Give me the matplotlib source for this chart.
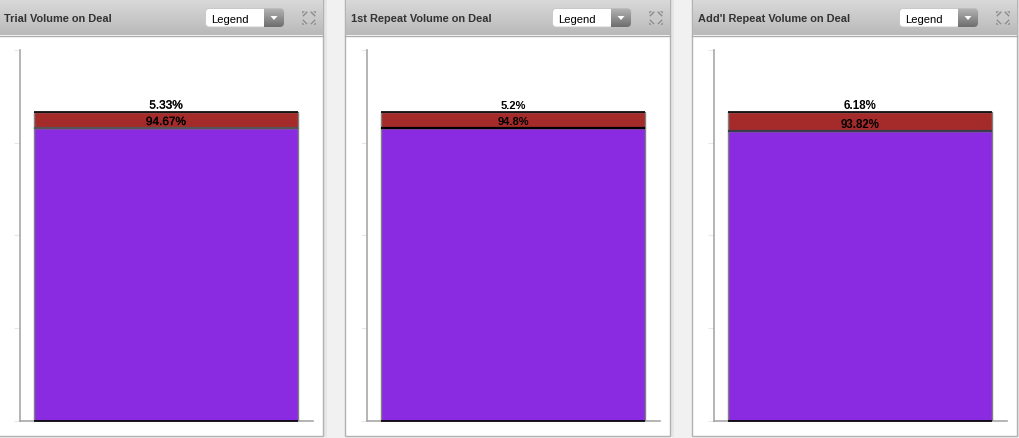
import numpy as np
import matplotlib
matplotlib.use("Agg")
import matplotlib.pyplot as plt
import matplotlib.patheffects as pe
from matplotlib.patches import Rectangle, FancyBboxPatch
from matplotlib.colors import LinearSegmentedColormap

titles = ["Trial Volume on Deal", "1st Repeat Volume on Deal", "Add'l Repeat Volume on Deal"]
not_on_deal = [94.67, 94.8, 93.82]
on_deal = [5.33, 5.2, 6.18]
bottom_labels = ["94.67%", "94.8%", "93.82%"]
top_labels = ["5.33%", "5.2%", "6.18%"]
y_ticks = [0, 30, 60, 90, 120]
legend_label = "Legend"

W, H = 1020, 439
PURPLE = "#8a2be2"
BROWN = "#a52a2a"
divider_colors = ["#555555", "#000000", "#3a3a50"]
label_weights = ["normal", "bold", "bold"]
label_sizes = [8.5, 8.0, 8.3]
label_pad = [4.4, 5.0, 5.0]
offsets = [0, 347, 694]

plt.rcParams["font.family"] = ["Liberation Sans", "DejaVu Sans"]
fig = plt.figure(figsize=(W / 100, H / 100), dpi=100, facecolor="#f1f1f1")

# overlay in pixel coordinates for the panel chrome
bg = fig.add_axes([0, 0, 1, 1], zorder=0)
bg.axis("off")

hdr = LinearSegmentedColormap.from_list("hdr", ["#dadada", "#b9b9b9"])
btn = LinearSegmentedColormap.from_list("btn", ["#b5b5b5", "#6e6e6e"])
grad = np.linspace(0, 1, 64).reshape(-1, 1)


def expand_icon(x, y):
    """Four small corner arrows, centred on (x, y)."""
    for dx, dy in [(-1, -1), (1, -1), (-1, 1), (1, 1)]:
        cx, cy = x + dx * 4, y + dy * 4
        bg.add_patch(Rectangle((cx - 3, cy - 3), 6, 6, fc="#cacaca", ec="none", zorder=5))
        bg.plot([cx - 2.2, cx + 2.2], [cy - dx * dy * -2.2, cy + dx * dy * -2.2],
                color="#8c8c8c", lw=1.0, zorder=6, solid_capstyle="butt")
        bg.fill([cx + dx * 2.8, cx + dx * 0.2, cx + dx * 2.8],
                [cy + dy * 2.8, cy + dy * 2.8, cy + dy * 0.2],
                color="#8c8c8c", lw=0, zorder=6)


for i, off in enumerate(offsets):
    left, right = off - 1.8, off + 323
    # soft shadow
    bg.add_patch(Rectangle((right, 0), 4, 438, fc="#e6e6e6", ec="none", zorder=1))
    bg.add_patch(Rectangle((left, -1), right - left, 438.5, fc="white", ec="#b2b2b2", lw=1.0, zorder=2))
    bg.imshow(grad, cmap=hdr, extent=(left + .5, right - .5, 36, 0), aspect="auto", zorder=3)
    bg.plot([left, right], [36.5, 36.5], color="#acacac", lw=1, zorder=4)
    bg.text(off + 4, 18.7, titles[i], fontsize=7.9, fontweight="bold", color="#333333",
            va="center", ha="left", zorder=5)
    # dropdown
    bx = off + 205.5
    bg.add_patch(FancyBboxPatch((bx, 9.5), 78.5, 18.5, boxstyle="round,pad=0,rounding_size=4",
                                fc="white", ec="#c4c4c4", lw=0.6, zorder=5))
    im = bg.imshow(grad, cmap=btn, extent=(bx + 59, bx + 78.5, 28, 9.5), aspect="auto", zorder=6)
    im.set_clip_path(FancyBboxPatch((bx, 9.5), 78.5, 18.5, boxstyle="round,pad=0,rounding_size=4",
                                    transform=bg.transData))
    bg.fill([bx + 65, bx + 72, bx + 68.5], [17, 17, 21], color="white", lw=0, zorder=7)
    bg.text(bx + 5.5, 19.8, legend_label, fontsize=8.1, color="black", va="center", ha="left", zorder=7)
    expand_icon(off + 309, 19)

    # chart
    x0, x1, ytop, ybot = off + 20, off + 313, 50.8, 421.8
    ax = fig.add_axes([x0 / W, 1 - ybot / H, (x1 - x0) / W, (ybot - ytop) / H], zorder=2)
    ax.patch.set_alpha(0)
    ax.set_xlim(-0.498, 0.502)
    ax.set_ylim(0, y_ticks[-1])
    width = 0.901
    ax.bar([0], [not_on_deal[i]], width=width, color=PURPLE, edgecolor="#808080", lw=1, zorder=3)
    ax.bar([0], [on_deal[i]], bottom=[not_on_deal[i]], width=width, color=BROWN,
           edgecolor="#808080", lw=1, zorder=3)
    ax.hlines(not_on_deal[i], -width / 2, width / 2, color=divider_colors[i], lw=1.6, zorder=4)
    ax.hlines(not_on_deal[i] + on_deal[i], -width / 2, width / 2, color="black", lw=1.2, zorder=4)
    ax.hlines(0, -width / 2, width / 2, color="black", lw=1.2, zorder=4, clip_on=False)
    effects = [pe.withStroke(linewidth=0.2, foreground="black")] if label_weights[i] == "normal" else []
    for val, lab in ((not_on_deal[i] + on_deal[i], top_labels[i]), (not_on_deal[i], bottom_labels[i])):
        ax.annotate(lab, (0, val), xytext=(0, label_pad[i]), textcoords="offset points",
                    ha="center", va="center", fontsize=label_sizes[i], fontweight=label_weights[i],
                    color="black", zorder=6, path_effects=effects)
    for s in ("top", "right"):
        ax.spines[s].set_visible(False)
    for s in ("left", "bottom"):
        ax.spines[s].set_color("#a8a8a8")
        ax.spines[s].set_linewidth(1.2)
    ax.set_xticks([])
    ax.set_yticks(y_ticks)
    ax.set_yticklabels([])
    ax.tick_params(axis="y", length=4.5, width=0.8, color="#e3e9f3")

bg.set_xlim(0, W)
bg.set_ylim(H, 0)
fig.savefig("out.png", dpi=100, facecolor=fig.get_facecolor())
